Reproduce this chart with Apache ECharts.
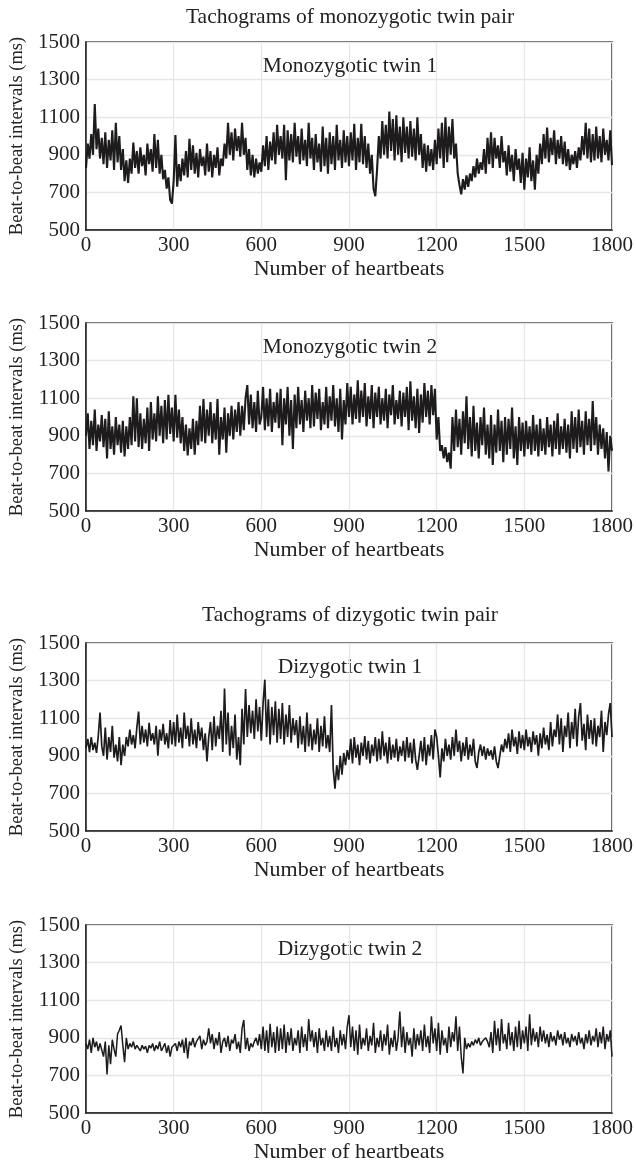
<!DOCTYPE html>
<html>
<head>
<meta charset="utf-8">
<script src="https://cdn.jsdelivr.net/npm/echarts@6/dist/echarts.min.js"></script>
<style>
html,body{margin:0;padding:0;background:#fff;}
#chart{width:636px;height:1168px;}
</style>
</head>
<body>
<div id="chart"></div>
<script>
// Beat sampling step (number of heartbeats between stored samples)
const BEAT_STEP = 6;
const xTicks = [0, 300, 600, 900, 1200, 1500, 1800];
const yTicks = [500, 700, 900, 1100, 1300, 1500];

const panelTitles = ['Tachograms of monozygotic twin pair', 'Tachograms of dizygotic twin pair'];
const seriesNames = ['Monozygotic twin 1', 'Monozygotic twin 2', 'Dizygotic twin 1', 'Dizygotic twin 2'];
const xAxisTitle = 'Number of heartbeats';
const yAxisTitle = 'Beat-to-beat intervals (ms)';

const mono1 = [
830,960,880,1010,900,1170,930,1040,880,990,
850,1020,830,980,870,1030,820,1070,860,1000,
820,930,760,870,750,880,800,965,830,920,
800,940,840,900,790,960,850,930,810,1010,
830,980,800,900,770,820,720,780,660,640,
760,1005,730,850,760,880,790,920,780,985,
820,950,800,910,780,930,840,890,790,960,
810,920,780,900,830,940,790,880,840,960,
880,1070,900,1020,870,1040,920,1000,890,1070,
900,990,820,930,790,900,780,880,800,860,
810,950,840,1000,820,970,870,1020,850,1060,
900,1000,880,1060,765,1030,870,1010,860,1070,
890,1000,850,1040,870,980,840,1070,880,990,
820,1010,860,960,810,1050,840,990,800,1020,
850,1000,820,1060,870,980,830,1030,860,1000,
840,1020,870,1065,820,990,860,1065,850,1000,
830,960,800,900,720,680,820,1000,880,1080,
900,1060,880,1130,920,1090,870,1110,900,1050,
860,1100,910,1050,880,1080,890,1040,870,1100,
900,1010,830,960,810,950,840,930,820,980,
850,1040,880,1070,830,1100,860,1050,900,1090,
880,960,800,740,690,770,715,790,730,800,
760,840,780,880,800,860,820,930,800,990,
850,1020,830,990,880,950,830,1000,860,920,
790,950,810,900,760,930,820,880,750,910,
715,880,780,940,760,870,715,900,800,960,
850,1010,880,1045,860,990,900,1030,850,980,
880,1000,850,970,840,930,820,900,850,920,
830,940,870,1000,900,1070,880,1040,860,1010,
870,1050,880,1000,860,1040,900,980,870,1030,
845];

const mono2 = [
900,1020,830,980,850,1040,820,960,870,1010,
840,990,780,1030,830,950,800,1000,850,960,
810,980,790,950,830,1000,850,1110,870,1100,
840,1020,830,990,860,1050,820,1080,880,1020,
870,1110,900,1060,860,1090,880,1118,910,1050,
870,1118,890,1040,860,1000,820,960,795,940,
830,990,800,980,850,1060,870,1095,860,1040,
900,1080,860,1020,880,1095,800,1000,880,1050,
810,1020,900,1060,880,1040,920,1080,900,1060,
930,1100,1170,960,1120,940,1080,920,1140,960,
1000,1160,930,1100,950,1150,920,1080,970,1130,
940,1150,850,1100,960,1160,900,1090,830,1120,
940,1160,960,1090,920,1140,980,1100,940,1170,
950,1130,990,1150,930,1080,960,1160,940,1110,
980,1170,950,1100,920,1150,880,1090,960,1180,
1000,1160,960,1120,990,1195,970,1140,1000,1180,
950,1110,990,1170,940,1130,1000,1160,960,1100,
980,1150,940,1120,1010,1170,960,1090,990,1140,
950,1130,1000,1160,930,1190,980,1110,940,1150,
915,1120,970,1180,1000,1140,960,1170,1010,1150,
880,1000,820,850,780,840,760,810,725,1000,
820,1040,840,990,800,1030,860,1110,830,1000,
790,1060,820,970,780,1000,850,1050,800,960,
780,1010,745,960,810,1040,820,980,760,1000,
800,990,830,1050,780,950,745,1000,820,970,
790,980,830,950,800,1010,820,960,790,990,
820,940,800,1000,840,960,790,980,830,1020,
800,950,830,990,810,960,780,1030,830,1000,
810,1040,840,980,800,1030,850,990,820,1085,
850,1000,800,960,830,940,780,920,710,900,
820];

const di1 = [
940,990,920,1000,930,970,915,1005,1130,950,
900,1050,880,1000,920,1060,890,960,870,1000,
850,960,900,1000,950,1040,960,1010,940,1050,
1135,960,1060,970,1040,950,1075,980,1020,960,
1060,900,1040,980,1070,960,1020,940,1090,960,
1080,950,1120,970,1050,940,1130,990,1060,950,
1100,960,1040,940,1080,980,1050,930,1020,870,
1000,1080,930,1110,950,1060,990,1140,920,1258,
960,1130,900,1060,940,1120,880,1000,850,1150,
960,1255,1000,1170,1020,1140,990,1200,1030,1160,
980,1180,1305,1000,1200,960,1160,1010,1190,970,
1150,990,1180,960,1120,1000,1170,970,1100,1010,
1090,940,1110,960,1060,920,1130,950,1070,930,
1040,960,1100,920,1060,950,1110,940,1010,920,
1170,830,725,850,770,900,800,915,850,930,
880,990,860,1000,890,960,850,970,900,1005,
880,980,860,960,900,1000,870,990,880,1030,
900,970,860,1000,880,960,890,990,870,950,
900,980,870,1000,890,970,860,990,880,825,
900,980,870,1000,850,960,900,1010,880,1040,
1000,900,785,940,870,990,900,960,880,1000,
900,1040,920,980,870,970,900,1000,880,960,
900,990,870,835,920,960,900,950,880,940,
900,930,880,950,870,835,900,960,920,990,
940,1020,920,1040,950,1000,910,1030,940,1010,
930,1040,950,1000,920,1030,960,1010,900,1020,
940,1050,960,1010,930,1080,950,1040,1000,1120,
960,1100,920,1060,1000,1130,940,1080,990,1150,
950,1110,1180,980,1070,930,1120,990,1090,960,
1100,950,1060,1000,1140,920,1080,1010,1120,1180,
1000];

const di2 = [
870,840,890,820,900,850,880,830,870,860,
800,880,705,860,760,890,840,800,920,940,
965,860,770,900,840,870,850,880,840,860,
850,830,860,840,855,820,860,845,870,830,
860,840,880,830,850,870,820,860,800,850,
840,870,830,880,850,890,820,900,790,880,
860,900,850,880,870,910,840,890,860,880,
950,870,920,840,900,860,930,820,880,900,
850,910,830,890,870,920,840,880,820,950,
995,840,900,830,870,850,880,900,860,920,
840,960,830,940,820,975,850,930,820,960,
830,950,840,970,820,930,860,950,830,900,
860,940,820,960,850,920,830,1000,880,940,
850,930,820,950,860,900,830,940,850,910,
830,960,850,900,820,940,860,920,840,960,
1020,850,960,830,940,810,970,840,900,860,
950,830,910,860,980,820,900,850,940,830,
920,860,970,810,900,850,940,830,900,1040,
850,960,820,930,860,900,800,950,840,920,
860,940,830,970,850,910,820,1015,870,950,
830,980,810,940,860,900,820,960,850,930,
880,1015,830,960,800,710,900,840,870,850,
880,860,890,870,900,860,880,870,900,880,
850,930,820,990,860,950,830,1000,870,920,
840,980,860,930,830,960,850,990,840,940,
870,960,830,1025,860,950,880,930,850,960,
880,940,870,920,850,930,880,910,860,940,
890,920,860,930,870,900,850,920,880,910,
860,930,870,900,840,920,870,940,860,910,
880,950,850,930,870,960,840,920,880,940,
800];

const allData = [mono1, mono2, di1, di2];

const FONT = '"Liberation Serif", "DejaVu Serif", serif';
const gridTops = [42, 323, 643, 925];
const gridH = 188;
const gridLeft = 86;
const gridW = 528;
const lineWidths = [2.1, 2.1, 1.7, 1.5];

const grids = [], xAxes = [], yAxes = [], series = [], graphics = [];

allData.forEach((vals, k) => {
  grids.push({left: gridLeft, top: gridTops[k], width: gridW, height: gridH,
    show: true, borderColor: '#222', borderWidth: 1.5, backgroundColor: 'transparent'});
  xAxes.push({type: 'value', gridIndex: k, min: xTicks[0], max: xTicks[xTicks.length - 1],
    interval: xTicks[1] - xTicks[0],
    axisLine: {show: true, lineStyle: {color: '#222', width: 1.5}},
    axisTick: {show: false},
    axisLabel: {color: '#222', fontFamily: FONT, fontSize: 21, margin: 5, formatter: v => String(v)},
    splitLine: {show: true, lineStyle: {color: '#e6e6e6', width: 1.3}},
    name: xAxisTitle, nameLocation: 'middle', nameGap: 28,
    nameTextStyle: {color: '#222', fontFamily: FONT, fontSize: 22}});
  yAxes.push({type: 'value', gridIndex: k, min: yTicks[0], max: yTicks[yTicks.length - 1],
    interval: yTicks[1] - yTicks[0],
    axisLine: {show: true, lineStyle: {color: '#222', width: 1.5}},
    axisTick: {show: false},
    axisLabel: {color: '#222', fontFamily: FONT, fontSize: 21, margin: 6, formatter: v => String(v)},
    splitLine: {show: true, lineStyle: {color: '#e6e6e6', width: 1.3}},
    name: yAxisTitle, nameLocation: 'middle', nameGap: 59,
    nameTextStyle: {color: '#222', fontFamily: FONT, fontSize: 18.5}});
  series.push({type: 'line', xAxisIndex: k, yAxisIndex: k, showSymbol: false,
    data: vals.map((v, i) => [i * BEAT_STEP, v]),
    lineStyle: {color: '#1d1b1c', width: lineWidths[k]}, silent: true, z: 3});
  graphics.push({type: 'text', x: gridLeft + gridW / 2, y: gridTops[k] + 24,
    style: {text: seriesNames[k], fill: '#222', font: '21.5px ' + FONT, textAlign: 'center', textVerticalAlign: 'middle'}});
});

graphics.push({type: 'text', x: gridLeft + gridW / 2, y: 17,
  style: {text: panelTitles[0], fill: '#222', font: '21.5px ' + FONT, textAlign: 'center', textVerticalAlign: 'middle'}});
graphics.push({type: 'text', x: gridLeft + gridW / 2, y: 615,
  style: {text: panelTitles[1], fill: '#222', font: '21.5px ' + FONT, textAlign: 'center', textVerticalAlign: 'middle'}});

const chart = echarts.init(document.getElementById('chart'), null, {renderer: 'canvas'});
chart.setOption({
  animation: false,
  backgroundColor: '#fff',
  grid: grids, xAxis: xAxes, yAxis: yAxes, series: series, graphic: graphics
});
</script>
</body>
</html>
